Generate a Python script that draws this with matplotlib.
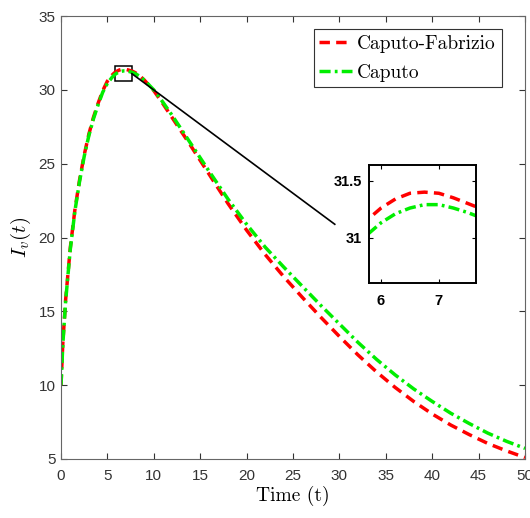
import matplotlib
matplotlib.use('Agg')
import matplotlib.pyplot as plt
from matplotlib.patches import Rectangle

plt.rcParams['mathtext.fontset'] = 'cm'
plt.rcParams['font.family'] = ['Liberation Sans', 'DejaVu Sans']

# values
t = [0, 0.2, 0.5, 1, 1.5, 2, 2.5, 3, 3.5, 4, 4.5, 5, 5.5, 5.75, 6, 6.25, 6.5,
     6.75, 7, 7.25, 7.5, 7.75, 8, 8.5, 9, 10, 11, 12, 14, 16, 18, 20, 22, 24,
     26, 28, 30, 32, 34, 36, 38, 40, 42, 44, 46, 48, 50]
I_cf = [10, 12.9, 15.8, 19.3, 21.9, 23.9, 25.6, 27.0, 28.15, 29.1, 29.95, 30.6,
        31.0, 31.15, 31.26, 31.34, 31.39, 31.40, 31.39, 31.35, 31.30, 31.25,
        31.17, 30.95, 30.65, 29.95, 29.05, 28.1, 26.2, 24.25, 22.3, 20.5, 18.85,
        17.35, 15.95, 14.6, 13.3, 12.05, 10.9, 9.85, 8.9, 8.05, 7.3, 6.65,
        6.05, 5.55, 5.1]
I_c = [10, 12.8, 15.7, 19.2, 21.8, 23.8, 25.5, 26.9, 28.05, 29.0, 29.85, 30.45,
       30.85, 31.02, 31.13, 31.21, 31.26, 31.29, 31.29, 31.26, 31.22, 31.17,
       31.10, 30.92, 30.65, 30.0, 29.15, 28.25, 26.35, 24.45, 22.6, 20.9, 19.35,
       18.0, 16.7, 15.4, 14.15, 12.9, 11.75, 10.7, 9.75, 8.9, 8.1, 7.4, 6.75,
       6.2, 5.72]

labels = ['Caputo-Fabrizio', 'Caputo']
zoom_x = (5.79, 7.64)
zoom_y = (30.6, 31.64)
link_end = (29.5, 20.9)

fig = plt.figure(figsize=(5.3, 5.18), dpi=100)
ax = fig.add_axes([0.1151, 0.1139, 0.8755, 0.855])

ax.plot(t, I_cf, color='#ff0000', lw=2.5, dashes=(3, 1.8), label=labels[0])
ax.plot(t, I_c, color='#00ee00', lw=2.5, dashes=(3.2, 1.2, 0.8, 1.2), label=labels[1])

ax.add_patch(Rectangle((zoom_x[0], zoom_y[0]), zoom_x[1] - zoom_x[0],
                       zoom_y[1] - zoom_y[0], fill=False, ec='black', lw=1.1))
ax.plot([zoom_x[1], link_end[0]], [31.1, link_end[1]], color='black', lw=1.2)

ax.set_xlim(0, 50)
ax.set_ylim(5, 35)
ax.set_xticks(range(0, 51, 5))
ax.set_yticks(range(5, 36, 5))
ax.tick_params(direction='in', length=4, width=0.8, top=True, right=True,
               labelsize=11, colors='#333333')
ax.tick_params(axis='x', pad=7)
ax.tick_params(axis='y', pad=4)
for sp in ax.spines.values():
    sp.set_color('#666666')
    sp.set_linewidth(0.8)

ax.set_xlabel('Time (t)', family='cmr10', fontsize=14, labelpad=2)
ax.set_ylabel(r'$I_v(t)$', fontsize=15, labelpad=4)

leg = ax.legend(loc='upper right', bbox_to_anchor=(0.950, 0.9707),
                prop={'family': 'cmr10', 'size': 14},
                fancybox=False, edgecolor='#333333', framealpha=1,
                handlelength=1.7, handletextpad=0.25, borderaxespad=0,
                borderpad=0.3, labelspacing=0.55)
leg.get_frame().set_linewidth(0.8)

# zoomed inset
axi = fig.add_axes([0.696, 0.4537, 0.202, 0.228])
axi.plot(t, I_cf, color='#ff0000', lw=2.5, dashes=(3, 1.8))
axi.plot(t, I_c, color='#00ee00', lw=2.5, dashes=(3.2, 1.2, 0.8, 1.2))
axi.set_xlim(*zoom_x)
axi.set_ylim(*zoom_y)
axi.set_xticks([6, 7])
axi.set_yticks([31, 31.5])
axi.set_yticklabels(['31', '31.5'])
axi.tick_params(direction='in', length=3, width=0.8, top=True, right=True,
                labelsize=10.5, colors='black', pad=5)
axi.tick_params(axis='x', pad=8)
for lab in axi.get_xticklabels() + axi.get_yticklabels():
    lab.set_fontweight('bold')
for sp in axi.spines.values():
    sp.set_color('black')
    sp.set_linewidth(1.4)

fig.savefig('out.png')
